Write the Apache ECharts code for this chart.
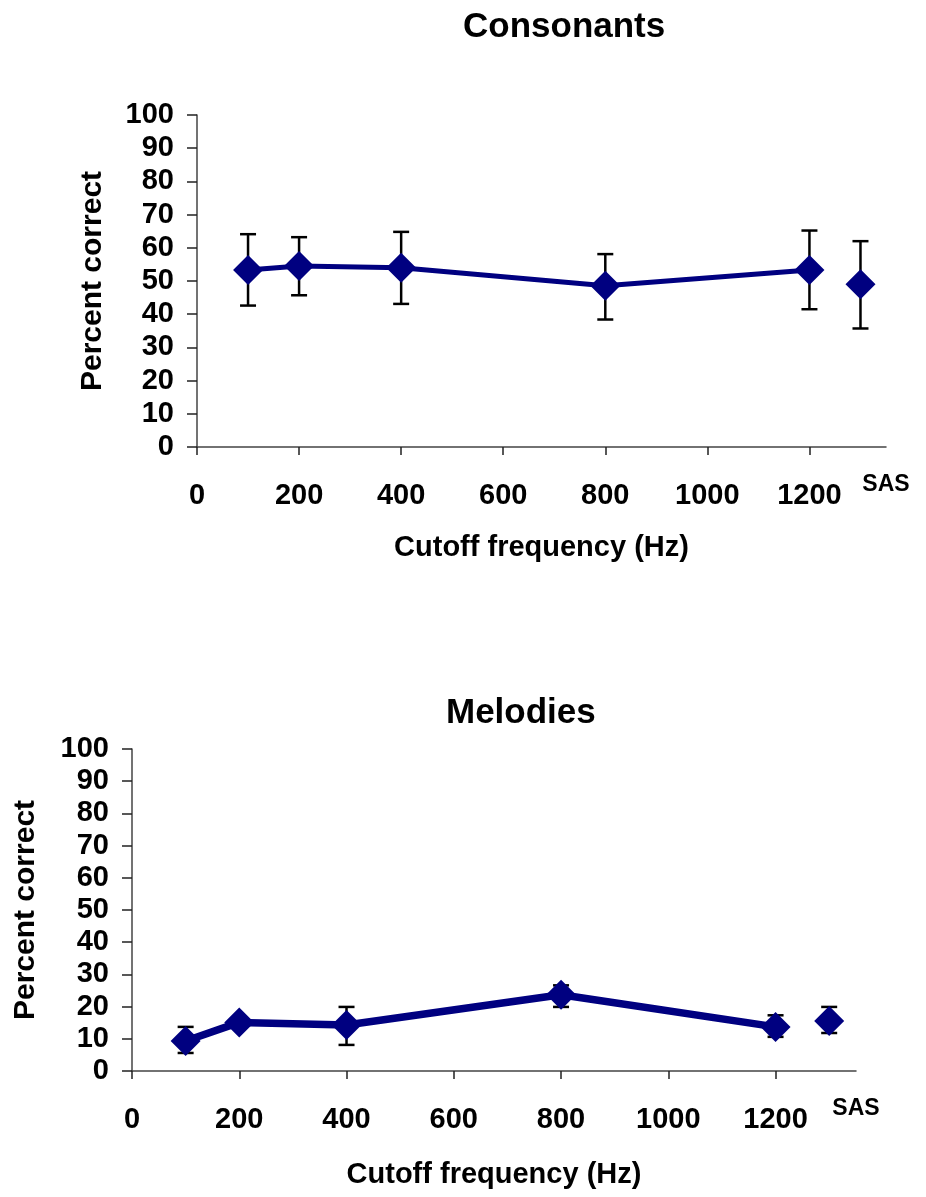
<!DOCTYPE html>
<html>
<head>
<meta charset="utf-8">
<script src="https://cdn.jsdelivr.net/npm/echarts@6/dist/echarts.min.js"></script>
<style>
  html, body { margin: 0; padding: 0; background: #fff; }
  #chart { width: 926px; height: 1197px; }
</style>
</head>
<body>
<div id="chart"></div>
<script>
// Cutoff frequencies (Hz) of the filtered conditions, plus the SAS condition
const cutoffs = [100, 200, 400, 800, 1200];
const sasPos = 1300;           // SAS plotted just right of 1200
const sasLabelPos = 1350;      // axis end, where the "SAS" label sits
const xTicks = [0, 200, 400, 600, 800, 1000, 1200];
const yTicks = [0, 10, 20, 30, 40, 50, 60, 70, 80, 90, 100];

// Consonants: mean, upper and lower error-bar ends
const consMean  = [53.3, 54.5, 54.0, 48.6, 53.3];
const consUpper = [64.1, 63.2, 64.8, 58.1, 65.2];
const consLower = [42.6, 45.7, 43.1, 38.4, 41.5];
const consSAS   = [49.0, 62.0, 35.7];   // mean, upper, lower

// Melodies: mean, upper and lower error-bar ends
const melMean  = [9.3, 15.1, 14.3, 23.7, 13.7];
const melUpper = [13.7, 16.4, 19.9, 26.6, 17.3];
const melLower = [5.6, 13.8, 8.1, 19.9, 10.6];
const melSAS   = [15.5, 19.9, 11.8];

const NAVY = '#000080';
const FONT = "'Liberation Sans', Arial, sans-serif";

const chart = echarts.init(document.getElementById('chart'), null, { renderer: 'canvas' });

function errRows(upper, lower, sas) {
  const rows = cutoffs.map((x, i) => [x, upper[i], lower[i]]);
  rows.push([sasPos, sas[1], sas[2]]);
  return rows;
}

function errorBars(xi, yi, rows) {
  return {
    type: 'custom',
    xAxisIndex: xi,
    yAxisIndex: yi,
    z: 1,
    silent: true,
    data: rows,
    renderItem: function (params, api) {
      const top = api.coord([api.value(0), api.value(1)]);
      const bot = api.coord([api.value(0), api.value(2)]);
      const cap = 8;
      const style = { stroke: '#000', lineWidth: 2.5 };
      return {
        type: 'group',
        children: [
          { type: 'line', shape: { x1: top[0], y1: top[1], x2: bot[0], y2: bot[1] }, style: style },
          { type: 'line', shape: { x1: top[0] - cap, y1: top[1], x2: top[0] + cap, y2: top[1] }, style: style },
          { type: 'line', shape: { x1: bot[0] - cap, y1: bot[1], x2: bot[0] + cap, y2: bot[1] }, style: style }
        ]
      };
    }
  };
}

function xAxisFor(gi, gap) {
  return {
    type: 'value',
    gridIndex: gi,
    min: 0,
    max: sasLabelPos,
    name: 'Cutoff frequency (Hz)',
    nameLocation: 'middle',
    nameGap: gap,
    nameTextStyle: { fontFamily: FONT, fontWeight: 'bold', fontSize: 29, color: '#000' },
    axisLine: { show: true, onZero: false, lineStyle: { color: '#444', width: 1.5 } },
    axisTick: { show: true, inside: false, length: 8, customValues: xTicks, lineStyle: { color: '#222', width: 1.5 } },
    axisLabel: {
      customValues: xTicks.concat([sasLabelPos]),
      margin: 34,
      fontFamily: FONT, fontWeight: 'bold', fontSize: 29, color: '#000',
      formatter: v => v === sasLabelPos ? '{sas|SAS}' : String(v),
      rich: { sas: { fontFamily: FONT, fontWeight: 'bold', fontSize: 23, color: '#000', lineHeight: 8 } }
    },
    splitLine: { show: false }
  };
}

function yAxisFor(gi, gap) {
  return {
    type: 'value',
    gridIndex: gi,
    min: 0,
    max: 100,
    interval: 10,
    name: 'Percent correct',
    nameLocation: 'middle',
    nameRotate: 90,
    nameGap: gap,
    nameTextStyle: { fontFamily: FONT, fontWeight: 'bold', fontSize: 30, color: '#000' },
    axisLine: { show: true, lineStyle: { color: '#444', width: 1.5 } },
    axisTick: { show: true, inside: false, length: 10, lineStyle: { color: '#222', width: 1.5 } },
    axisLabel: { margin: 23, fontFamily: FONT, fontWeight: 'bold', fontSize: 29, color: '#000' },
    splitLine: { show: false }
  };
}

function meanLine(xi, yi, mean, width) {
  return {
    type: 'line',
    xAxisIndex: xi, yAxisIndex: yi,
    z: 3,
    data: cutoffs.map((x, i) => [x, mean[i]]),
    symbol: 'diamond',
    symbolSize: 30,
    lineStyle: { color: NAVY, width: width },
    itemStyle: { color: NAVY, opacity: 1 },
    animation: false
  };
}

function sasPoint(xi, yi, sas) {
  return {
    type: 'scatter',
    xAxisIndex: xi, yAxisIndex: yi,
    z: 3,
    data: [[sasPos, sas[0]]],
    symbol: 'diamond',
    symbolSize: 30,
    itemStyle: { color: NAVY, opacity: 1 },
    animation: false
  };
}

chart.setOption({
  animation: false,
  backgroundColor: '#fff',
  title: [
    { text: 'Consonants', left: 458, top: 5,
      textStyle: { fontFamily: FONT, fontWeight: 'bold', fontSize: 35, color: '#000' } },
    { text: 'Melodies', left: 441, top: 691,
      textStyle: { fontFamily: FONT, fontWeight: 'bold', fontSize: 35, color: '#000' } }
  ],
  grid: [
    { left: 197, top: 115, width: 689, height: 332 },
    { left: 132, top: 749, width: 724, height: 322 }
  ],
  xAxis: [xAxisFor(0, 86), xAxisFor(1, 89)],
  yAxis: [yAxisFor(0, 89), yAxisFor(1, 91)],
  series: [
    errorBars(0, 0, errRows(consUpper, consLower, consSAS)),
    meanLine(0, 0, consMean, 5),
    sasPoint(0, 0, consSAS),
    errorBars(1, 1, errRows(melUpper, melLower, melSAS)),
    meanLine(1, 1, melMean, 7.5),
    sasPoint(1, 1, melSAS)
  ]
});
</script>
</body>
</html>
